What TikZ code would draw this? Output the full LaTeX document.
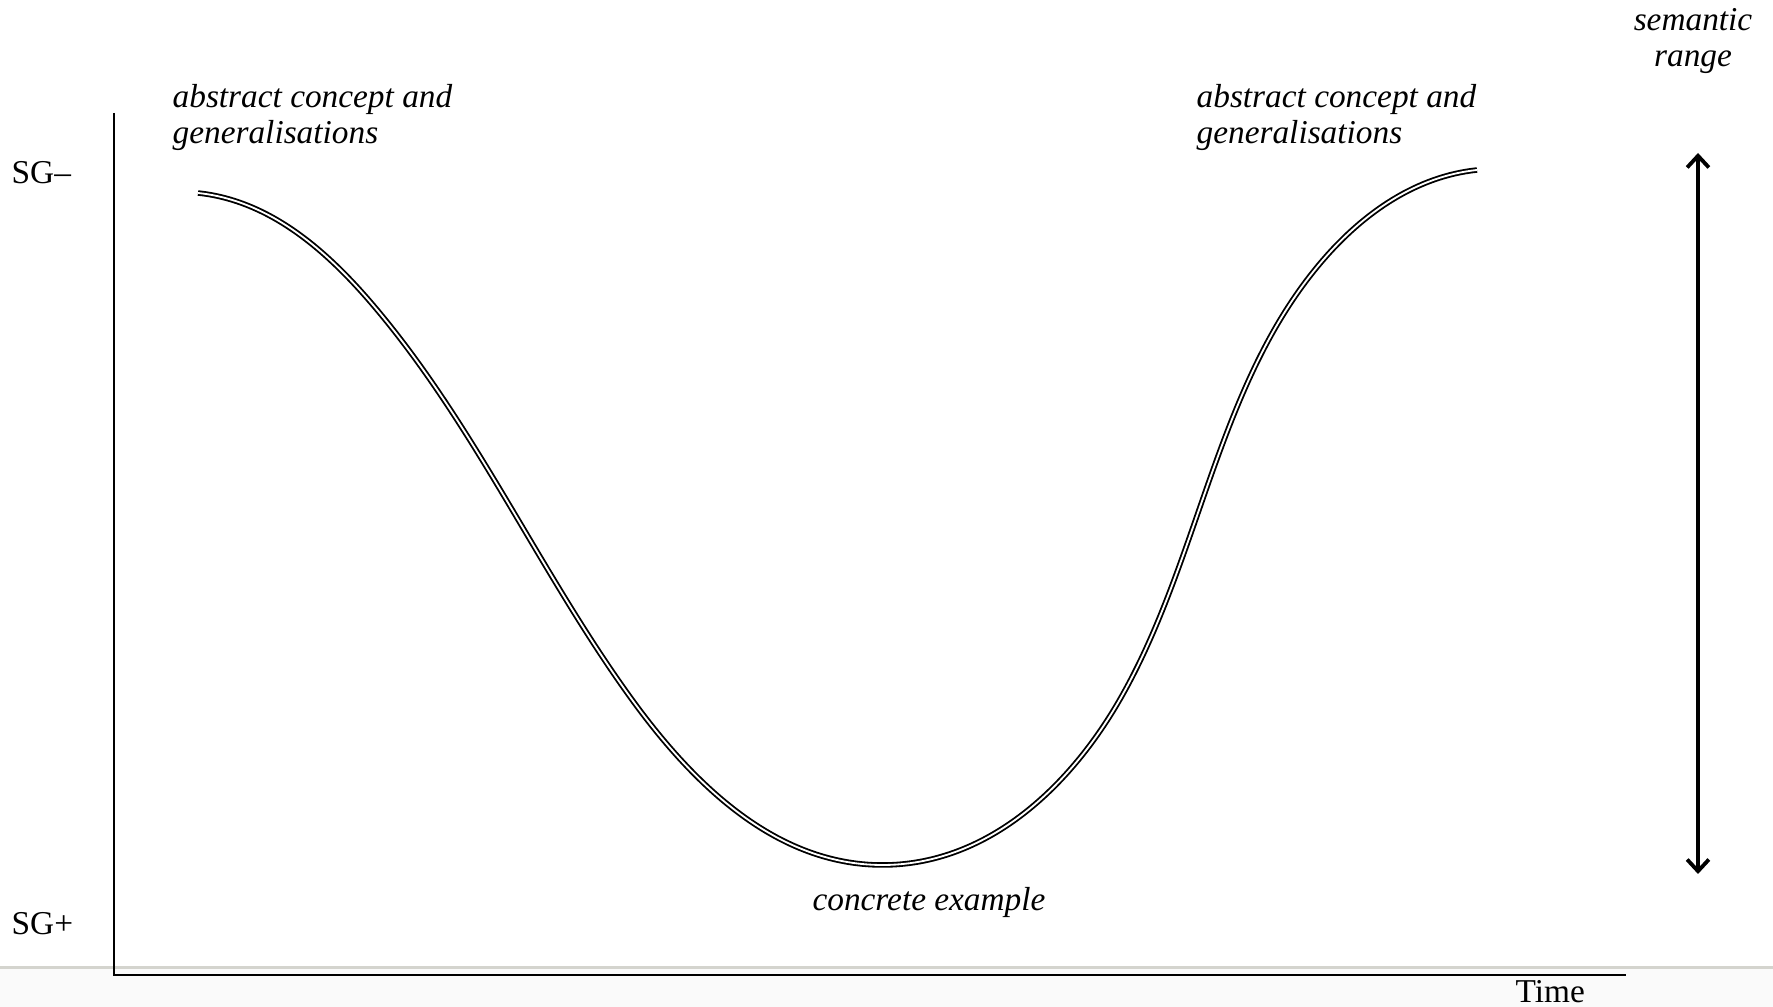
\documentclass[tikz,border=0pt]{standalone}
\usepackage{fontspec}
\setmainfont{Liberation Serif}
\usetikzlibrary{arrows.meta,hobby}
\tikzset{
  lbl/.style={inner sep=0pt, font=\fontsize{10}{11}\selectfont},
  ilbl/.style={lbl, font=\fontsize{10}{10.6}\selectfont\itshape},
  axisline/.style={line width=0.7pt},
  wave/.style={line width=0.55pt, double=white, double distance=0.55pt},
  rangearrow/.style={line width=1.15pt, {Straight Barb[length=3.5pt,width=6.5pt]}-{Straight Barb[length=3.5pt,width=6.5pt]}}
}
\begin{document}
\begin{tikzpicture}[x=0.3pt,y=-0.3pt]
\useasboundingbox (0,0) rectangle (1773,1007);
% faint band at bottom
\fill[black!2] (0,968) rectangle (1773,1007);
\draw[line width=0.9pt, color={rgb,255:red,212;green,212;blue,206}] (0,968) -- (1773,968);
% axes
\coordinate (ytop) at (114,113);
\coordinate (origin) at (114,975);
\coordinate (xend) at (1626,975);
\draw[axisline] (ytop) -- (origin) -- (xend);
% curve
\draw[wave, use Hobby shortcut] ([out angle=-6]198,193) .. (373,305) .. (633,701) .. (882,865) .. (1119,701) .. (1323,260) .. ([in angle=186]1477,170);
% range arrow
\coordinate (rtop) at (1698,153);
\coordinate (rbot) at (1698,874);
\draw[rangearrow] (rbot) -- (rtop);
% labels
\node[lbl, anchor=west] (sgminus) at (11,173) {SG–};
\node[lbl, anchor=west] (sgplus) at (11,924) {SG+};
\node[lbl, anchor=base west] (time) at (1515,1003) {Time};
\node[ilbl, anchor=north west, align=left] (absL) at (172,84) {abstract concept and\\generalisations};
\node[ilbl, anchor=north west, align=left] (absR) at (1196,84) {abstract concept and\\generalisations};
\node[ilbl, anchor=center] (concrete) at (929,902) {concrete example};
\node[ilbl, anchor=north, align=center] (range) at (1693,8) {semantic\\range};
\end{tikzpicture}
\end{document}
